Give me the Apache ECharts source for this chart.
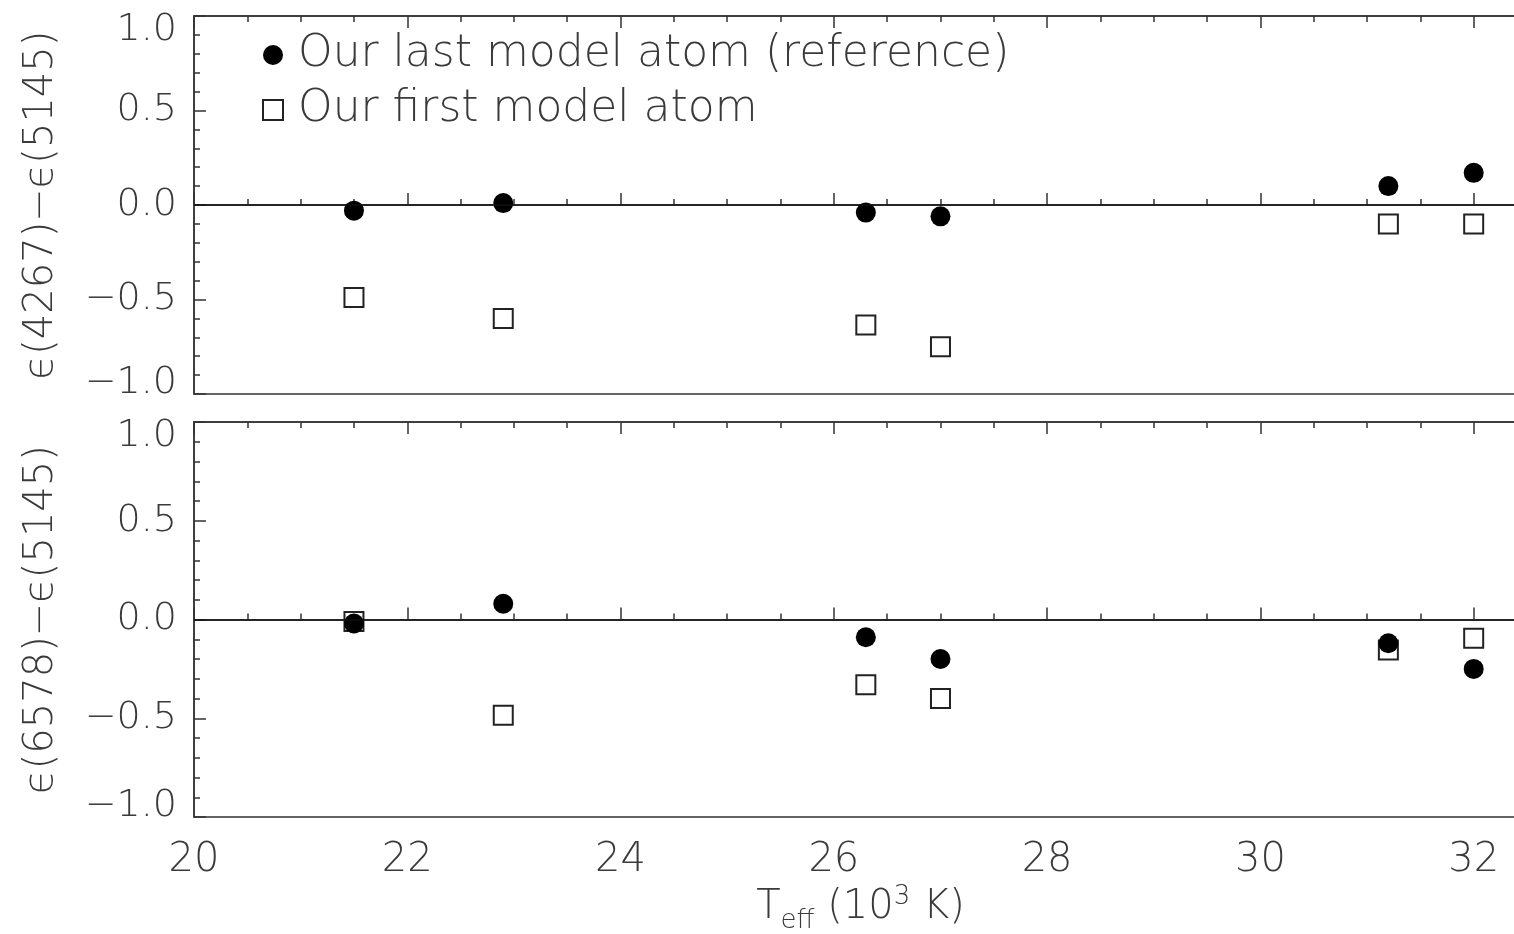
<!DOCTYPE html>
<html>
<head>
<meta charset="utf-8">
<script src="https://cdn.jsdelivr.net/npm/echarts@6/dist/echarts.min.js"></script>
<style>
  html, body { margin: 0; padding: 0; background: #fff; }
  #chart { width: 1514px; height: 934px; }
</style>
</head>
<body>
<div id="chart"></div>
<script>
// Effective temperatures of the sample stars (10^3 K)
const teff = [21.5, 22.9, 26.3, 27.0, 31.2, 32.0];

// Abundance differences eps(4267) - eps(5145)
const lastTop  = [-0.03, 0.01, -0.04, -0.06, 0.10, 0.17];
const firstTop = [-0.49, -0.60, -0.635, -0.75, -0.10, -0.10];

// Abundance differences eps(6578) - eps(5145)
const lastBottom  = [-0.02, 0.08, -0.09, -0.20, -0.12, -0.25];
const firstBottom = [-0.01, -0.485, -0.33, -0.40, -0.155, -0.095];

const seriesNames = ['Our last model atom (reference)', 'Our first model atom'];
const yNames = ['\u03f5(4267)\u2212\u03f5(5145)', '\u03f5(6578)\u2212\u03f5(5145)'];

const FONT = 'DejaVu Sans';
const WEIGHT = 200;
const TEXT = '#3a3a3a';
const AXIS = '#333';

function pairs(xs, ys) { return xs.map((x, i) => [x, ys[i]]); }

function yLabel(v) {
  const s = (v < 0 ? '\u2212' : '') + Math.abs(v).toFixed(1);
  if (v === 1) return '{hi|' + s + '}';
  if (v === -1) return '{lo|' + s + '}';
  return s;
}

const axisLine = { show: true, lineStyle: { color: AXIS, width: 1.5 } };
const axisTick = { show: true, inside: true, length: 12, lineStyle: { color: AXIS, width: 1.5 } };
const minorTickBase = { show: true, length: 6, lineStyle: { color: AXIS, width: 1.5 } };

function xAxisFor(grid, pos, withLabels) {
  return {
    type: 'value', gridIndex: grid, position: pos,
    min: 20, max: 32.5, interval: 2,
    axisLine: axisLine, axisTick: axisTick,
    minorTick: Object.assign({}, minorTickBase, { splitNumber: 4 }),
    splitLine: { show: false },
    axisLabel: {
      show: withLabels, showMaxLabel: false, margin: 24,
      fontFamily: FONT, fontWeight: WEIGHT, fontSize: 40, color: TEXT
    },
    name: withLabels ? '{n|T}{sub|eff}{n| (10}{sup|3}{n| K)}' : '',
    nameLocation: 'middle', nameGap: 64,
    nameTextStyle: {
      fontFamily: FONT, color: TEXT,
      rich: {
        n: { fontFamily: FONT, fontWeight: WEIGHT, fontSize: 40, color: TEXT, lineHeight: 48 },
        sub: { fontFamily: FONT, fontWeight: WEIGHT, fontSize: 26, color: TEXT, lineHeight: 48, padding: [26, 0, 0, 0] },
        sup: { fontFamily: FONT, fontWeight: WEIGHT, fontSize: 26, color: TEXT, lineHeight: 48, padding: [0, 0, 22, 0] }
      }
    }
  };
}

function yAxisFor(grid, name) {
  return {
    type: 'value', gridIndex: grid, position: 'left',
    min: -1, max: 1, interval: 0.5,
    axisLine: axisLine, axisTick: axisTick,
    minorTick: Object.assign({}, minorTickBase, { splitNumber: 5 }),
    splitLine: { show: false },
    axisLabel: {
      margin: 17, fontFamily: FONT, fontWeight: WEIGHT, fontSize: 38, color: TEXT,
      formatter: yLabel,
      rich: {
        hi: { fontFamily: FONT, fontWeight: WEIGHT, fontSize: 38, color: TEXT, padding: [28, 0, 0, 0] },
        lo: { fontFamily: FONT, fontWeight: WEIGHT, fontSize: 38, color: TEXT, padding: [0, 0, 22, 0] }
      }
    },
    name: name, nameLocation: 'middle', nameGap: 132, nameRotate: 90,
    nameTextStyle: { fontFamily: FONT, fontWeight: WEIGHT, fontSize: 40, color: TEXT }
  };
}

const zeroLine = {
  silent: true, symbol: 'none',
  label: { show: false },
  lineStyle: { color: '#111', width: 1.5, type: 'solid' },
  data: [{ yAxis: 0 }]
};

const squareStyle = { color: '#fff', borderColor: '#222', borderWidth: 2, opacity: 1 };
const dotStyle = { color: '#000', opacity: 1 };

const gridBase = {
  left: 194, width: 1333, show: true, borderColor: AXIS, borderWidth: 1.5,
  backgroundColor: 'transparent', containLabel: false, outerBoundsMode: 'none'
};

const option = {
  animation: false,
  backgroundColor: '#fff',
  grid: [
    Object.assign({}, gridBase, { top: 16, height: 378 }),
    Object.assign({}, gridBase, { top: 422, height: 395 })
  ],
  xAxis: [
    xAxisFor(0, 'bottom', false),
    xAxisFor(0, 'top', false),
    xAxisFor(1, 'bottom', true),
    xAxisFor(1, 'top', false)
  ],
  yAxis: [
    yAxisFor(0, yNames[0]),
    yAxisFor(1, yNames[1])
  ],
  legend: {
    orient: 'vertical', left: 257, top: 28,
    itemWidth: 20, itemHeight: 20, itemGap: 11,
    data: seriesNames,
    textStyle: { fontFamily: FONT, fontWeight: WEIGHT, fontSize: 44, color: TEXT, padding: [0, 0, 0, 10] }
  },
  series: [
    { name: seriesNames[1], type: 'scatter', xAxisIndex: 0, yAxisIndex: 0, symbol: 'rect', symbolSize: 19,
      itemStyle: squareStyle, data: pairs(teff, firstTop) },
    { name: seriesNames[0], type: 'scatter', xAxisIndex: 0, yAxisIndex: 0, symbol: 'circle', symbolSize: 20,
      itemStyle: dotStyle, data: pairs(teff, lastTop), markLine: zeroLine },
    { name: seriesNames[1], type: 'scatter', xAxisIndex: 2, yAxisIndex: 1, symbol: 'rect', symbolSize: 19,
      itemStyle: squareStyle, data: pairs(teff, firstBottom) },
    { name: seriesNames[0], type: 'scatter', xAxisIndex: 2, yAxisIndex: 1, symbol: 'circle', symbolSize: 20,
      itemStyle: dotStyle, data: pairs(teff, lastBottom), markLine: zeroLine }
  ]
};

const chart = echarts.init(document.getElementById('chart'), null, { renderer: 'canvas' });
chart.setOption(option);
</script>
</body>
</html>
